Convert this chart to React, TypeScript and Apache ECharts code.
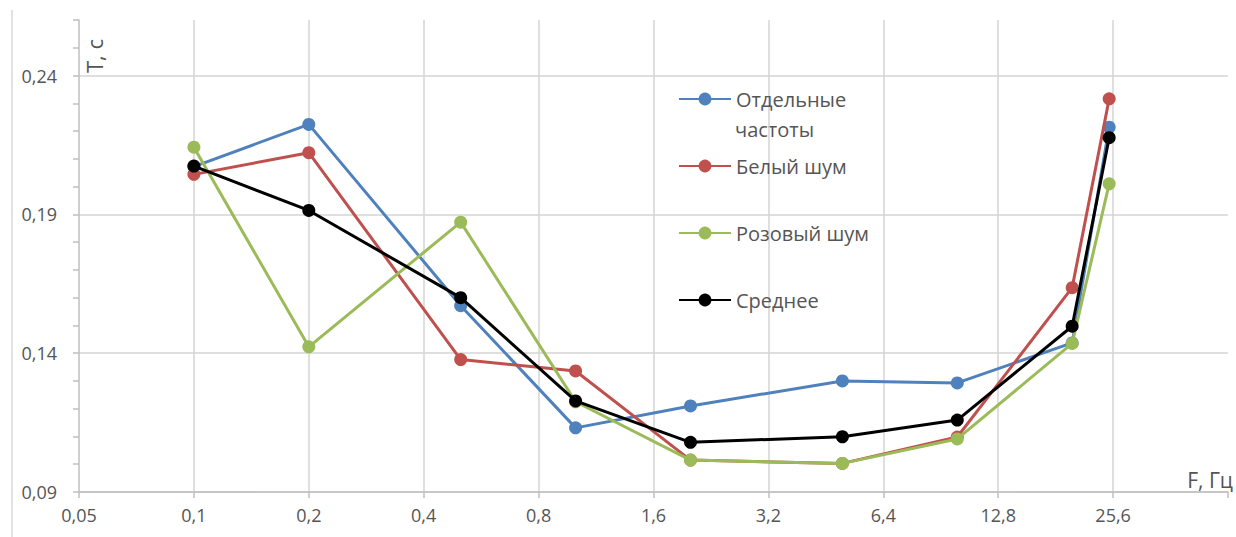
import React, { useEffect, useRef } from "react";
import * as echarts from "echarts";

// Frequencies (Hz) of the measured points
const frequencies = [0.1, 0.2, 0.5, 1, 2, 5, 10, 20, 25];
// Base of the doubling frequency axis and its tick labels
const xBase = 0.05;
const xTickLabels = ["0,05", "0,1", "0,2", "0,4", "0,8", "1,6", "3,2", "6,4", "12,8", "25,6"];
const yTickValues = [0.09, 0.14, 0.19, 0.24];
const yTickLabels = ["0,09", "0,14", "0,19", "0,24"];

// Series values, T (s)
const separateFreq = [0.2072, 0.2224, 0.1571, 0.1131, 0.121, 0.13, 0.1293, 0.1437, 0.2214];
const whiteNoise = [0.2044, 0.2122, 0.1377, 0.1336, 0.1015, 0.1003, 0.1098, 0.1636, 0.2316];
const pinkNoise = [0.2142, 0.1423, 0.1872, 0.1225, 0.1015, 0.1003, 0.1091, 0.1435, 0.201];
const average = [0.2074, 0.1914, 0.16, 0.1228, 0.1079, 0.1099, 0.1159, 0.1497, 0.2176];

const seriesNames = ["Отдельные частоты", "Белый шум", "Розовый шум", "Среднее"];
const legendLabels = ["Отдельные", "Белый шум", "Розовый шум", "Среднее"];
const legendSecondLine = "частоты";
const seriesValues = [separateFreq, whiteNoise, pinkNoise, average];
const seriesColors = ["#4f81bd", "#c0504d", "#9bbb59", "#000000"];

const FONT = "'Open Sans', sans-serif";
const TEXT_COLOR = "#555555";

export default function App() {
  const ref = useRef<HTMLDivElement>(null);

  useEffect(() => {
    if (!ref.current) return;
    const chart = echarts.init(ref.current, undefined, { renderer: "svg" });

    const series = seriesNames.map((name, i) => ({
      name,
      type: "line",
      data: frequencies.map((f, j) => [Math.log2(f / xBase), seriesValues[i][j]]),
      symbol: "circle",
      symbolSize: 13,
      showSymbol: true,
      color: seriesColors[i],
      lineStyle: { width: 3, color: seriesColors[i] },
      itemStyle: { color: seriesColors[i] },
      z: 2 + i,
    }));

    const legendTops = [86, 153, 220, 287];
    const legends = seriesNames.map((name, i) => ({
      show: true,
      orient: "vertical",
      left: 678,
      top: legendTops[i],
      padding: 0,
      itemWidth: 52,
      itemHeight: 16,
      itemGap: 0,
      data: [name],
      selectedMode: false,
      formatter: () => legendLabels[i],
      textStyle: {
        fontFamily: FONT,
        fontSize: 20,
        color: TEXT_COLOR,
        lineHeight: 26,
      },
    }));

    const option = {
      animation: false,
      backgroundColor: "#ffffff",
      textStyle: { fontFamily: FONT },
      grid: {
        left: 79,
        right: 8,
        top: 20,
        bottom: 45,
        containLabel: false,
        outerBoundsMode: "none",
      },
      legend: legends,
      xAxis: {
        type: "value",
        min: 0,
        max: 10,
        interval: 1,
        axisLine: { show: true, lineStyle: { color: "#bfbfbf", width: 1.5 } },
        axisTick: { show: true, inside: false, length: 6, lineStyle: { color: "#bfbfbf", width: 1.5 } },
        axisLabel: {
          show: true,
          margin: 14,
          fontFamily: FONT,
          fontSize: 18,
          color: TEXT_COLOR,
          formatter: (v: number) => {
            const idx = Math.round(v);
            return Math.abs(v - idx) < 1e-6 && xTickLabels[idx] ? xTickLabels[idx] : "";
          },
        },
        splitLine: {
          show: true,
          showMinLine: false,
          showMaxLine: false,
          lineStyle: { color: "#d4d4d4", width: 1.5 },
        },
      },
      yAxis: {
        type: "value",
        min: 0.09,
        max: 0.26,
        interval: 0.01,
        axisLine: { show: true, lineStyle: { color: "#bfbfbf", width: 1.5 } },
        axisTick: { show: true, inside: false, length: 6, lineStyle: { color: "#bfbfbf", width: 1.5 } },
        axisLabel: {
          show: true,
          margin: 22,
          fontFamily: FONT,
          fontSize: 18,
          color: TEXT_COLOR,
          padding: [3, 0, 0, 0],
          formatter: (v: number) => {
            const idx = yTickValues.findIndex((t) => Math.abs(t - v) < 1e-6);
            return idx >= 0 ? yTickLabels[idx] : "";
          },
        },
        splitLine: {
          show: true,
          showMinLine: true,
          showMaxLine: false,
          lineStyle: {
            color: ["#d4d4d4", "transparent", "transparent", "transparent", "transparent"],
            width: 1.5,
          },
        },
      },
      graphic: [
        {
          type: "line",
          shape: { x1: 12, y1: 10, x2: 12, y2: 537 },
          style: { stroke: "#d9d9d9", lineWidth: 1.5 },
          silent: true,
        },
        {
          type: "text",
          x: 735,
          y: 129,
          style: {
            text: legendSecondLine,
            fontFamily: FONT,
            fontSize: 20,
            fill: TEXT_COLOR,
            align: "left",
            verticalAlign: "middle",
          },
          silent: true,
        },
        {
          type: "text",
          x: 94,
          y: 56,
          rotation: Math.PI / 2,
          style: {
            text: "Т, с",
            fontFamily: FONT,
            fontSize: 22,
            fill: TEXT_COLOR,
            align: "center",
            verticalAlign: "middle",
          },
          silent: true,
        },
        {
          type: "text",
          x: 1233,
          y: 480,
          style: {
            text: "F, Гц",
            fontFamily: FONT,
            fontSize: 21,
            fill: TEXT_COLOR,
            align: "right",
            verticalAlign: "middle",
          },
          silent: true,
        },
      ],
      series,
    };

    chart.setOption(option as any);
    return () => chart.dispose();
  }, []);

  return (
    <div
      ref={ref}
      style={{ position: "fixed", left: 0, top: 0, width: 1236, height: 537, background: "#fff" }}
    />
  );
}
